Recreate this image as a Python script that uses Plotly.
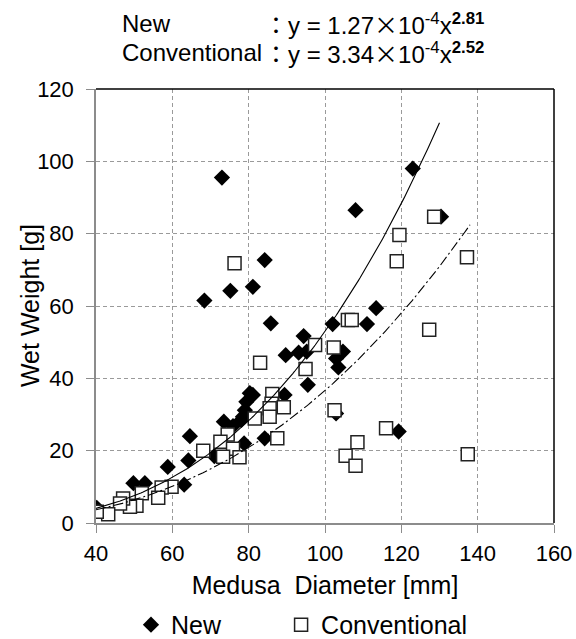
import numpy as np
import plotly.graph_objects as go

# --- data ---
new_x = [123, 73, 108, 130.4, 84.2, 81.1, 75.2, 68.4, 113.4, 85.8, 102, 111, 94.4,
         104.7, 95.2, 93.1, 89.7, 102.9, 103.5, 95.5, 81.1, 80.3, 89.4, 79.4, 79,
         78.5, 78.1, 73.5, 75.9, 64.6, 84.2, 78.8, 102.9, 119.3, 71, 64.2, 58.8,
         49.8, 52.8, 63.1, 40.2]
new_y = [98, 95.5, 86.5, 84.7, 72.7, 65.3, 64.2, 61.5, 59.4, 55.2, 55, 55, 51.7,
         47.4, 47.4, 47.1, 46.4, 45.5, 43, 38.2, 35.4, 35.9, 35.4, 33.5, 31.2,
         29.4, 28.5, 28, 26.8, 24, 23.4, 22, 30.3, 25.3, 18.5, 17.3, 15.5,
         11, 11, 10.6, 4.2]

conv_x = [128.6, 119.5, 118.8, 137.2, 76.3, 106, 107, 127.3, 97.4, 102.3, 83, 94.9,
          86.2, 86, 85.5, 89.2, 81.6, 85.5, 102.5, 87.5, 116, 108.5, 105.4, 108,
          137.4, 74.5, 72.6, 68.1, 75.9, 73.3, 77.6, 59.8, 57.2, 56.3, 52, 50.6,
          48.9, 47.1, 46.3, 43.2, 40.2]
conv_y = [84.7, 79.6, 72.4, 73.5, 71.8, 56.1, 56.1, 53.4, 49.2, 48.5, 44.3, 42.6,
          35.7, 33, 31.7, 32, 28.9, 29.4, 31.2, 23.4, 26.2, 22.3, 18.6, 15.8,
          19, 24.5, 22.5, 20, 20.5, 18.3, 18.2, 10, 9.8, 7, 8.2, 4.8,
          4.5, 6.8, 5.4, 2.4, 3.1]

# fitted power laws shown on the chart: y = a * x^b
new_a, new_b, new_xmax = 1.27e-4, 2.81, 130
conv_a, conv_b, conv_xmax = 3.34e-4, 2.52, 138
fit_xmin = 40

x_ticks = [40, 60, 80, 100, 120, 140, 160]
y_ticks = [0, 20, 40, 60, 80, 100, 120]

FONT = "Arial, Liberation Sans, sans-serif"

fx_new = np.linspace(fit_xmin, new_xmax, 200)
fx_conv = np.linspace(fit_xmin, conv_xmax, 200)

fig = go.Figure()
fig.add_trace(go.Scatter(x=new_x, y=new_y, mode="markers", name="New",
                         legend="legend",
                         marker=dict(symbol="diamond", size=12.5, color="black",
                                     line=dict(width=0))))
fig.add_trace(go.Scatter(x=conv_x, y=conv_y, mode="markers", name="Conventional",
                         legend="legend2",
                         marker=dict(symbol="square", size=13, color="white",
                                     line=dict(width=1.5, color="#222"))))
fig.add_trace(go.Scatter(x=fx_new, y=new_a * fx_new ** new_b, mode="lines",
                         showlegend=False, line=dict(color="black", width=1.1)))
fig.add_trace(go.Scatter(x=fx_conv, y=conv_a * fx_conv ** conv_b, mode="lines",
                         showlegend=False,
                         line=dict(color="black", width=1.1, dash="10px,3px,2px,3px")))

grid = dict(showgrid=True, gridcolor="#9a9a9a", gridwidth=1, griddash="4px,3px",
            showline=True, linecolor="#8c8c8c", linewidth=1.5,
            ticks="outside", ticklen=8, tickcolor="#8c8c8c", tickwidth=1,
            zeroline=False, automargin=False,
            tickfont=dict(family=FONT, size=22, color="black"))

fig.update_xaxes(range=[40, 160], tickvals=x_ticks, ticklabelstandoff=2,
                 title=dict(text="Medusa  Diameter [mm]",
                            font=dict(family=FONT, size=25, color="black"),
                            standoff=11), **grid)
fig.update_yaxes(range=[0, 120], tickvals=y_ticks, ticklabelstandoff=8, **grid)

# y-axis title placed close to the tick labels
fig.add_annotation(xref="paper", yref="paper", x=-0.144, y=0.5, textangle=-90,
                   xanchor="center", yanchor="middle", showarrow=False,
                   font=dict(family=FONT, size=25, color="black"),
                   text="Wet Weight [g]")

# black top/right frame
fig.add_shape(type="line", xref="paper", yref="paper", x0=0, x1=1, y0=1, y1=1,
              line=dict(color="black", width=1.5))
fig.add_shape(type="line", xref="paper", yref="paper", x0=1, x1=1, y0=0, y1=1,
              line=dict(color="black", width=1.5))

cross = '<span style="font-family:Noto Sans CJK JP">×</span>'
colon = '<span style="font-family:Noto Sans CJK JP">：</span>'
ann_font = dict(family=FONT, size=24, color="black")
y1, y2 = 1.152, 1.085


def eq(coef, expo):
    return (colon + "y = " + coef + cross + "10<sup>-4</sup>x<sup><b>"
            + expo + "</b></sup>")


fig.add_annotation(xref="paper", yref="paper", x=0.053, y=y1, xanchor="left",
                   yanchor="middle", showarrow=False, font=ann_font, text="New")
fig.add_annotation(xref="paper", yref="paper", x=0.053, y=y2, xanchor="left",
                   yanchor="middle", showarrow=False, font=ann_font, text="Conventional")
fig.add_annotation(xref="paper", yref="paper", x=0.362, y=y1, xanchor="left",
                   yanchor="middle", showarrow=False, font=ann_font,
                   text=eq("1.27", "2.81"))
fig.add_annotation(xref="paper", yref="paper", x=0.362, y=y2, xanchor="left",
                   yanchor="middle", showarrow=False, font=ann_font,
                   text=eq("3.34", "2.52"))

leg_common = dict(orientation="h", xref="container", yref="container",
                  xanchor="left", yanchor="middle", y=0.022,
                  font=dict(family=FONT, size=25, color="black"),
                  bgcolor="rgba(0,0,0,0)", itemwidth=30)

fig.update_layout(
    width=576, height=639,
    margin=dict(l=96, r=22, t=89, b=116),
    paper_bgcolor="white", plot_bgcolor="white",
    showlegend=True,
    legend=dict(x=0.2274, **leg_common),
    legend2=dict(x=0.488, **leg_common),
)

fig.write_html("out.html", config={"displayModeBar": False},
               post_script="document.body.style.margin='0';"
                           "document.body.style.overflow='hidden';")
